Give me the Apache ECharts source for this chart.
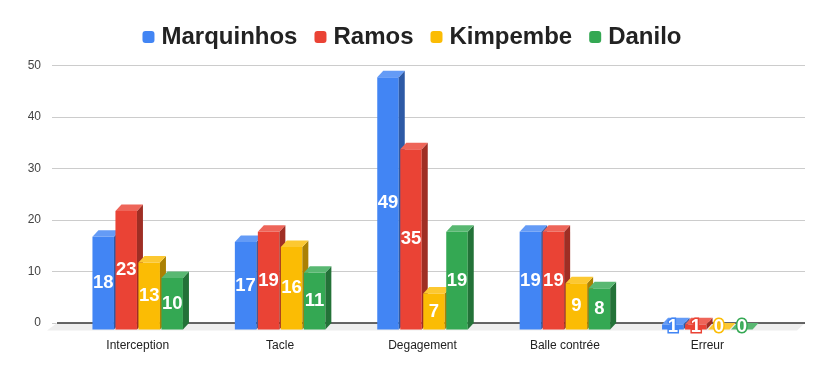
<!DOCTYPE html>
<html><head><meta charset="utf-8">
<script src="https://cdn.jsdelivr.net/npm/echarts@6/dist/echarts.min.js"></script>
<style>html,body{margin:0;padding:0;background:#fff}#c{width:824px;height:371px}</style>
</head><body><div id="c"></div>
<script>
const categories = ['Interception', 'Tacle', 'Degagement', 'Balle contrée', 'Erreur'];
const seriesNames = ['Marquinhos', 'Ramos', 'Kimpembe', 'Danilo'];
const marquinhos = [18, 17, 49, 19, 1];
const ramos = [23, 19, 35, 19, 1];
const kimpembe = [13, 16, 7, 9, 0];
const danilo = [10, 11, 19, 8, 0];
const yTicks = [0, 10, 20, 30, 40, 50];

const values = [marquinhos, ramos, kimpembe, danilo];
const colors = ['#4285F4', '#EA4335', '#FBBC04', '#34A853'];
const DX = 6, DY = 6.5;

function shade(hex, f) {
  const n = parseInt(hex.slice(1), 16);
  let r = n >> 16, g = (n >> 8) & 255, b = n & 255;
  if (f < 1) { r *= f; g *= f; b *= f; }
  else { const t = f - 1; r += (255 - r) * t; g += (255 - g) * t; b += (255 - b) * t; }
  return 'rgb(' + Math.round(r) + ',' + Math.round(g) + ',' + Math.round(b) + ')';
}

function barRender(si) {
  return function (params, api) {
    const ci = api.value(0), v = api.value(1);
    const band = api.size([1, 0])[0];
    const w = band * 0.151, pitch = band * 0.1615;
    const total = 3 * pitch + w;
    const c = api.coord([ci, v]);
    const base = api.coord([ci, 0]);
    const x0 = c[0] - total / 2 + si * pitch;
    const x1 = x0 + w;
    const yt = c[1], yb = base[1];
    const col = colors[si];
    const children = [];
    if (yb - yt > 0.1) {
      children.push({type: 'rect', shape: {x: x0, y: yt, width: w, height: yb - yt}, style: {fill: col}});
      children.push({type: 'polygon', shape: {points: [[x1, yt], [x1 + DX, yt - DY], [x1 + DX, yb - DY], [x1, yb]]}, style: {fill: shade(col, 0.68)}});
    }
    children.push({type: 'polygon', shape: {points: [[x0, yt], [x0 + DX, yt - DY], [x1 + DX, yt - DY], [x1, yt]]}, style: {fill: shade(col, 1.18)}});
    const small = (yb - yt) < 14;
    children.push({type: 'text', style: {
      text: String(v), x: (x0 + x1) / 2, y: small ? (yb - 3) : (yt + yb) / 2,
      align: 'center', verticalAlign: 'middle',
      fill: '#ffffff', stroke: small ? col : null, lineWidth: small ? 3 : 0,
      fontSize: 18.5, fontWeight: 'bold', fontFamily: 'Liberation Sans, Arial, sans-serif'
    }, z2: 10});
    return {type: 'group', children: children};
  };
}

const series = seriesNames.map((name, si) => ({
  name: name,
  type: 'custom',
  xAxisIndex: 0, yAxisIndex: 0,
  renderItem: barRender(si),
  encode: {x: 0, y: 1},
  data: values[si].map((v, i) => [i, v]),
  z: 3 + si
}));

series.push({
  name: 'floor',
  type: 'custom',
  xAxisIndex: 1, yAxisIndex: 1,
  silent: true,
  z: 1,
  data: [[0, 0]],
  renderItem: function (params, api) {
    const a = api.coord([0, 0]), b = api.coord([1, 0]);
    return {type: 'group', children: [
      {type: 'polygon', shape: {points: [[a[0], a[1]], [b[0], b[1]], [b[0] - DX - 2, b[1] + DY + 1], [a[0] - DX - 4, a[1] + DY + 1]]}, style: {fill: '#eeeeee'}},
      {type: 'line', shape: {x1: a[0], y1: a[1], x2: b[0], y2: b[1]}, style: {stroke: '#333333', lineWidth: 1.3}}
    ]};
  }
});

const chart = echarts.init(document.getElementById('c'), null, {renderer: 'canvas'});
chart.setOption({
  animation: false,
  color: colors,
  legend: {
    data: seriesNames.map((n, i) => ({name: n, itemStyle: {color: colors[i]}})),
    top: 20, left: 'center',
    icon: 'roundRect', itemWidth: 12, itemHeight: 12, itemGap: 17,
    textStyle: {fontSize: 24, fontWeight: 'bold', color: '#222', fontFamily: 'Liberation Sans, Arial, sans-serif', padding: [0, 0, 0, 2]}
  },
  grid: [
    {left: 66.5, right: 45.5, top: 72, bottom: 41.5},
    {left: 57, right: 19, top: 65.5, bottom: 48}
  ],
  xAxis: [
    {type: 'category', gridIndex: 0, data: categories,
      axisLine: {show: false}, axisTick: {show: false},
      axisLabel: {margin: 10, fontSize: 12, color: '#222', fontFamily: 'Liberation Sans, Arial, sans-serif'}},
    {type: 'value', gridIndex: 1, min: 0, max: 1, show: false}
  ],
  yAxis: [
    {type: 'value', gridIndex: 0, min: 0, max: 50, interval: 10, show: false},
    {type: 'value', gridIndex: 1, min: yTicks[0], max: yTicks[yTicks.length - 1], interval: 10,
      axisLine: {show: false},
      axisTick: {show: true, length: 5, lineStyle: {color: '#cccccc'}},
      splitLine: {lineStyle: {color: '#cccccc', width: 1}},
      axisLabel: {margin: 16, fontSize: 12, color: '#444', fontFamily: 'Liberation Sans, Arial, sans-serif'}}
  ],
  series: series
});
</script></body></html>
